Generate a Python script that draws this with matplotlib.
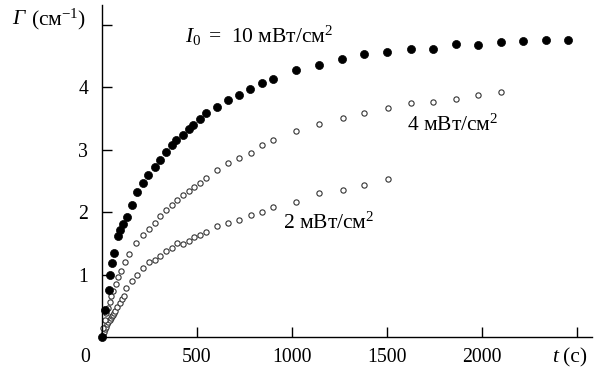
import matplotlib

matplotlib.use("Agg")
import matplotlib.pyplot as plt

plt.rcParams["font.family"] = ["Liberation Serif", "DejaVu Serif"]
plt.rcParams["mathtext.fontset"] = "custom"
plt.rcParams["mathtext.rm"] = "Liberation Serif"
plt.rcParams["mathtext.it"] = "Liberation Serif:italic"

# I0 = 10 mW/cm^2 (filled circles)
t10 = [0, 17, 35, 45, 55, 65, 84, 96, 113, 131, 158, 187, 215, 245, 277, 307,
       337, 368, 391, 426, 456, 482, 517, 549, 605, 663, 721, 781, 842, 900,
       1020, 1142, 1263, 1382, 1503, 1626, 1742, 1863, 1980, 2100, 2219, 2338, 2457]
g10 = [0.0, 0.43, 0.75, 1.0, 1.19, 1.34, 1.61, 1.71, 1.81, 1.92, 2.12, 2.32,
       2.46, 2.60, 2.72, 2.84, 2.96, 3.07, 3.16, 3.24, 3.33, 3.40, 3.49, 3.58,
       3.68, 3.79, 3.88, 3.97, 4.07, 4.14, 4.27, 4.36, 4.46, 4.53, 4.57, 4.62,
       4.62, 4.70, 4.67, 4.72, 4.74, 4.76, 4.76]

# 4 mW/cm^2 (open circles)
t4 = [0, 8, 16, 24, 32, 40, 50, 61, 72, 84, 102, 119, 145, 181, 216, 247, 277,
      307, 337, 367, 395, 427, 456, 486, 517, 549, 605, 663, 723, 784, 844, 899,
      1022, 1142, 1268, 1382, 1506, 1626, 1742, 1865, 1982, 2102]
g4 = [0.0, 0.15, 0.27, 0.38, 0.47, 0.56, 0.65, 0.74, 0.85, 0.96, 1.06, 1.20,
      1.33, 1.50, 1.64, 1.73, 1.82, 1.93, 2.03, 2.12, 2.20, 2.27, 2.34, 2.40,
      2.46, 2.54, 2.67, 2.78, 2.86, 2.94, 3.07, 3.16, 3.30, 3.41, 3.51, 3.59,
      3.66, 3.74, 3.77, 3.82, 3.88, 3.92]

# 2 mW/cm^2 (open circles)
t2 = [4, 10, 16, 22, 28, 34, 40, 46, 52, 58, 64, 70, 79, 93, 105, 117, 127, 158,
      187, 216, 247, 277, 307, 337, 367, 395, 427, 456, 486, 514, 547, 605, 663,
      721, 783, 842, 900, 1022, 1142, 1268, 1382, 1506]
g2 = [0.03, 0.08, 0.12, 0.16, 0.20, 0.24, 0.27, 0.30, 0.33, 0.36, 0.39, 0.42,
      0.48, 0.55, 0.61, 0.66, 0.78, 0.89, 1.0, 1.11, 1.20, 1.24, 1.29, 1.37,
      1.42, 1.50, 1.49, 1.54, 1.60, 1.64, 1.68, 1.77, 1.82, 1.87, 1.96, 2.00,
      2.09, 2.17, 2.30, 2.35, 2.44, 2.53]

x_ticks = [500, 1000, 1500, 2000, 2500]
x_labels = ["500", "1000", "1500", "2000", ""]
y_ticks = [1, 2, 3, 4, 5]
y_labels = ["1", "2", "3", "4", ""]

FS = 14.2   # tick labels
FL = 15.5   # curve labels

fig = plt.figure(figsize=(5.96, 3.74), dpi=100)
ax = fig.add_axes([0.171, 0.099, 0.822, 0.888])

ax.plot(t2, g2, "o", ms=3.8, mfc="white", mec="#333333", mew=0.8, clip_on=False)
ax.plot(t4, g4, "o", ms=3.8, mfc="white", mec="#333333", mew=0.8, clip_on=False)
ax.plot(t10, g10, "o", ms=5.8, mfc="black", mec="black", mew=0.5, clip_on=False)

ax.set_xlim(0, 2580)
ax.set_ylim(0, 5.32)
ax.set_xticks(x_ticks)
ax.set_xticklabels(x_labels)
ax.set_yticks(y_ticks)
ax.set_yticklabels(y_labels)
ax.tick_params(direction="in", length=7, width=1.0, labelsize=FS)
ax.tick_params(axis="x", pad=8)
ax.tick_params(axis="y", pad=10)
for s in ("top", "right"):
    ax.spines[s].set_visible(False)
for s in ("left", "bottom"):
    ax.spines[s].set_linewidth(1.0)

ax.text(-89, -0.33, "0", ha="center", va="center", fontsize=FS)
ax.text(2368, -0.33, "t", ha="left", va="center", fontsize=FL, fontstyle="italic")
ax.text(2430, -0.33, "(с)", ha="left", va="center", fontsize=FL)
fig.text(12 / 596, 1 - 19 / 374, "Γ", ha="left", va="center", fontsize=FL, fontstyle="italic")
fig.text(31 / 596, 1 - 19 / 374, "(см$^{-1}$)", ha="left", va="center", fontsize=FL)
ax.text(437, 4.83, "$\\mathit{I}_0\\,$ =  10 мВт/см$^2$", ha="left", va="center", fontsize=FL)
ax.text(1605, 3.39, "4 мВт/см$^2$", ha="left", va="center", fontsize=FL)
ax.text(953, 1.83, "2 мВт/см$^2$", ha="left", va="center", fontsize=FL)

fig.savefig("out.png", dpi=100, facecolor="white")
